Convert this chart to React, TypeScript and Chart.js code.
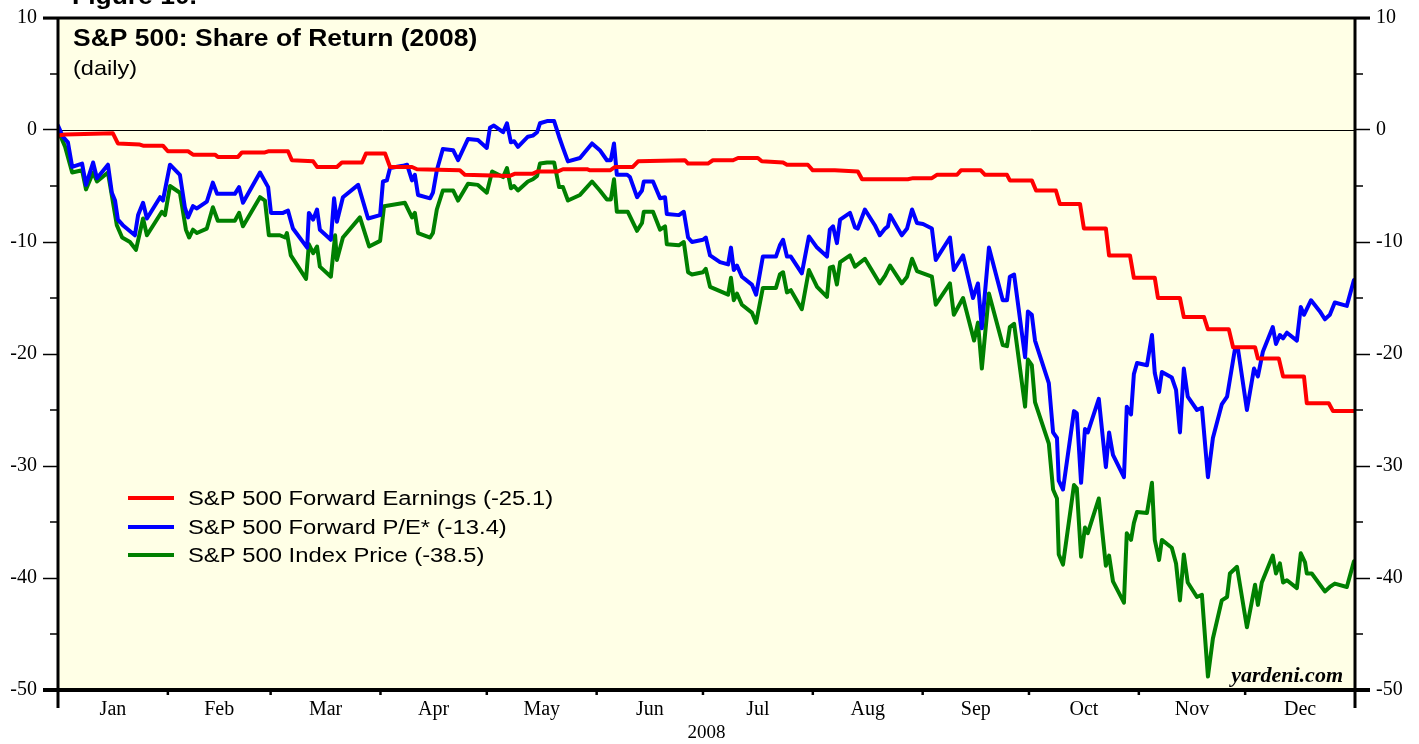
import React, { useEffect, useRef } from "react";
import { Chart, registerables } from "chart.js";

Chart.register(...registerables);

// ---- Data (x = day of year 2008, y = % share of return) ----
const MONTHS = ["Jan", "Feb", "Mar", "Apr", "May", "Jun", "Jul", "Aug", "Sep", "Oct", "Nov", "Dec"];
const MONTH_STARTS = [0, 31, 60, 91, 121, 152, 182, 213, 244, 274, 305, 335, 366];
const Y_MIN = -50;
const Y_MAX = 10;

const LABEL_EARNINGS = "S&P 500 Forward Earnings (-25.1)";
const LABEL_PE = "S&P 500 Forward P/E* (-13.4)";
const LABEL_PRICE = "S&P 500 Index Price (-38.5)";

const EARNINGS: [number, number][] = [
  [0, -0.5], [2.0, -0.4], [15.5, -0.3], [16.9, -1.2], [23.1, -1.3], [24.0, -1.4], [29.6, -1.4], [31.0, -1.9],
  [36.7, -1.9], [38.1, -2.2], [44.3, -2.2], [45.1, -2.4], [50.8, -2.4], [51.9, -2.0], [58.4, -2.0], [59.3, -1.9],
  [64.9, -1.9], [66.0, -2.7], [72.0, -2.8], [73.1, -3.3], [78.7, -3.3], [80.1, -2.9], [85.8, -2.9], [86.9, -2.1],
  [92.3, -2.1], [93.7, -3.3], [99.9, -3.3], [101.3, -3.5], [113.4, -3.6], [114.8, -4.0], [127.5, -4.1], [129.0, -3.9],
  [134.0, -3.9], [135.4, -3.7], [141.1, -3.7], [142.5, -3.5], [149.3, -3.5], [150.1, -3.6], [155.8, -3.6], [157.2, -3.3],
  [162.2, -3.3], [163.7, -2.8], [176.9, -2.7], [177.8, -3.0], [183.4, -3.0], [184.8, -2.7], [190.5, -2.7], [191.9, -2.5],
  [197.5, -2.5], [198.6, -2.8], [204.6, -2.9], [205.7, -3.1], [211.6, -3.1], [213.0, -3.6], [219.2, -3.6], [225.7, -3.7],
  [226.9, -4.4], [239.8, -4.4], [241.3, -4.3], [246.6, -4.3], [248.0, -4.0], [253.7, -4.0], [254.8, -3.6], [260.4, -3.6],
  [261.6, -4.0], [267.8, -4.0], [268.6, -4.5], [274.8, -4.5], [276.0, -5.4], [281.6, -5.4], [282.7, -6.6], [288.4, -6.6],
  [289.5, -8.8], [295.7, -8.8], [296.6, -11.2], [302.5, -11.2], [303.6, -13.2], [309.5, -13.2], [310.4, -15.0], [316.6, -15.0],
  [317.7, -16.7], [323.4, -16.7], [324.5, -17.8], [330.4, -17.8], [331.6, -19.4], [337.8, -19.4], [338.6, -20.4], [344.5, -20.4],
  [345.7, -22.0], [351.6, -22.0], [352.4, -24.4], [358.6, -24.4], [359.8, -25.1], [365.7, -25.1],
];

const PE: [number, number][] = [
  [0, 0.4], [1.4, -0.6], [2.8, -1.1], [4.0, -3.3], [6.8, -3.0], [7.9, -4.9], [9.9, -2.9], [11.0, -4.3], [14.1, -3.1],
  [15.2, -5.6], [16.1, -6.3], [16.9, -8.0], [18.3, -8.5], [21.7, -9.4], [22.6, -7.6], [24.0, -6.5], [25.1, -7.9],
  [28.8, -6.0], [29.6, -6.3], [31.6, -3.1], [34.4, -4.0], [35.8, -6.9], [36.7, -7.8], [38.1, -6.8], [39.2, -7.0],
  [42.0, -6.4], [43.7, -4.7], [44.9, -5.7], [49.9, -5.7], [51.1, -5.1], [52.2, -6.5], [57.0, -3.8], [59.3, -5.1],
  [60.1, -7.4], [63.5, -7.4], [64.9, -7.2], [66.3, -8.8], [70.3, -10.5], [70.8, -7.4], [72.0, -8.0], [73.1, -7.1],
  [73.9, -8.9], [77.0, -9.8], [77.9, -6.1], [78.7, -8.2], [80.4, -6.0], [84.7, -4.9], [87.5, -7.9], [90.9, -7.6],
  [91.7, -4.6], [92.8, -4.5], [93.7, -3.4], [97.3, -3.2], [98.5, -3.1], [99.9, -4.5], [100.7, -4.0], [101.6, -5.8],
  [105.0, -6.1], [105.8, -5.6], [106.9, -3.6], [108.6, -1.7], [111.5, -1.8], [112.9, -2.7], [115.7, -0.8], [118.5, -0.9],
  [121.0, -1.6], [121.9, 0.2], [123.0, 0.4], [125.6, -0.2], [126.7, 0.6], [127.8, -1.1], [128.7, -1.0], [129.8, -1.5],
  [132.6, -0.6], [134.0, -0.5], [135.2, -0.2], [136.0, 0.6], [138.0, 0.8], [140.0, 0.8], [141.4, -0.6], [142.5, -1.6],
  [143.9, -2.8], [147.3, -2.5], [150.7, -1.2], [152.9, -1.8], [154.9, -2.7], [156.0, -2.7], [156.9, -1.2], [157.7, -4.0],
  [160.6, -4.0], [161.4, -4.2], [163.4, -6.0], [164.8, -5.4], [165.3, -4.6], [167.9, -4.6], [169.9, -6.1], [171.3, -6.0],
  [171.8, -7.5], [175.2, -7.6], [176.6, -7.3], [177.8, -9.6], [178.9, -10.0], [182.0, -9.8], [182.8, -9.6], [184.0, -11.2],
  [186.8, -11.8], [189.1, -12.0], [189.9, -10.5], [190.7, -12.5], [191.6, -12.1], [193.0, -13.1], [195.8, -13.8], [197.0, -14.7],
  [198.9, -11.3], [202.6, -11.3], [203.7, -10.3], [204.6, -9.8], [205.7, -11.3], [206.8, -11.3], [209.9, -12.8], [211.9, -9.5],
  [214.2, -10.5], [217.0, -11.3], [217.8, -8.9], [218.7, -8.6], [219.8, -10.1], [220.7, -8.0], [223.5, -7.4], [224.9, -8.7],
  [225.7, -8.8], [227.7, -7.1], [230.5, -8.5], [231.9, -9.4], [233.4, -8.8], [234.2, -8.6], [234.8, -7.6], [238.1, -9.4],
  [239.6, -8.8], [241.0, -7.1], [242.4, -8.3], [244.1, -8.4], [246.6, -8.8], [247.7, -11.6], [251.7, -9.6], [252.8, -12.5],
  [255.4, -11.2], [258.2, -15.0], [259.6, -13.7], [260.7, -17.7], [262.7, -10.5], [266.6, -15.2], [267.8, -15.2], [268.6, -13.1],
  [269.8, -12.9], [272.9, -20.3], [273.7, -16.2], [274.8, -16.5], [275.7, -18.8], [279.6, -22.6], [280.8, -27.0], [281.9, -27.5],
  [282.4, -31.3], [283.6, -32.1], [286.7, -25.1], [287.5, -25.3], [288.7, -31.5], [289.8, -26.7], [290.6, -27.0], [293.7, -24.0],
  [295.7, -30.1], [296.6, -27.0], [297.7, -29.0], [300.8, -31.0], [301.6, -24.7], [302.8, -25.4], [303.6, -21.8], [304.5, -20.8],
  [307.3, -21.0], [308.7, -18.3], [309.5, -21.7], [310.7, -23.4], [311.5, -21.6], [314.3, -22.1], [315.5, -23.2], [316.6, -27.0],
  [317.7, -21.3], [318.8, -23.8], [321.4, -25.0], [322.8, -24.8], [324.5, -31.0], [325.9, -27.5], [328.4, -24.5], [329.9, -23.8],
  [332.1, -19.6], [333.0, -19.6], [335.5, -25.0], [337.5, -21.3], [338.6, -22.0], [340.0, -19.8], [342.8, -17.6], [343.7, -19.1],
  [344.8, -18.3], [345.7, -18.6], [346.8, -18.1], [349.6, -18.8], [350.7, -15.8], [351.6, -16.5], [353.6, -15.2], [356.1, -16.2],
  [357.5, -16.9], [358.9, -16.5], [360.3, -15.4], [363.7, -15.7], [365.7, -13.4],
];

const PRICE: [number, number][] = [
  [0, 0], [2.0, -1.5], [4.0, -3.8], [6.8, -3.6], [7.9, -5.3], [9.9, -3.8], [11.0, -4.6], [14.1, -3.8], [16.6, -8.5],
  [18.1, -9.6], [20.3, -10.0], [22.0, -10.7], [24.0, -7.9], [25.1, -9.4], [29.3, -7.3], [30.2, -7.6], [31.6, -5.0],
  [34.4, -5.6], [36.1, -8.9], [37.0, -9.6], [38.1, -8.9], [39.2, -9.2], [42.0, -8.8], [43.7, -6.9], [45.1, -8.1],
  [49.9, -8.1], [51.1, -7.4], [52.2, -8.6], [57.0, -6.0], [58.4, -6.3], [59.5, -9.4], [62.6, -9.4], [64.1, -9.6],
  [64.6, -9.2], [65.7, -11.2], [70.0, -13.3], [70.8, -10.2], [72.0, -11.0], [73.1, -10.4], [73.9, -12.2], [77.0, -13.1],
  [78.2, -9.4], [78.7, -11.6], [80.4, -9.6], [85.2, -7.8], [87.8, -10.4], [90.9, -9.9], [92.0, -6.8], [97.9, -6.5],
  [99.9, -7.8], [100.7, -7.4], [101.6, -9.2], [105.0, -9.6], [105.8, -9.2], [106.9, -7.1], [108.6, -5.4], [111.5, -5.4],
  [112.9, -6.3], [115.7, -4.8], [118.5, -4.9], [121.0, -5.6], [122.5, -3.7], [125.6, -4.2], [126.7, -3.4], [127.8, -5.2],
  [128.7, -5.0], [129.8, -5.4], [132.6, -4.6], [134.0, -4.4], [135.2, -4.1], [136.0, -3.0], [138.0, -2.9], [140.0, -2.9],
  [141.4, -5.1], [142.5, -5.1], [143.9, -6.3], [147.3, -5.8], [150.7, -4.6], [152.9, -5.4], [154.9, -6.2], [156.0, -6.2],
  [156.9, -4.4], [157.7, -7.3], [160.8, -7.3], [163.4, -9.0], [164.8, -8.3], [165.3, -7.3], [167.9, -7.3], [169.9, -8.9],
  [171.3, -8.6], [171.8, -10.2], [175.2, -10.3], [176.6, -10.0], [177.8, -12.7], [178.9, -12.9], [182.0, -12.7], [182.8, -12.4],
  [184.0, -14.0], [189.1, -14.7], [189.9, -13.2], [190.7, -15.2], [191.6, -14.6], [193.0, -15.6], [195.8, -16.3], [197.0, -17.2],
  [198.9, -14.1], [202.6, -14.1], [203.7, -12.9], [204.6, -12.7], [205.7, -14.5], [206.8, -14.3], [209.9, -16.0], [211.9, -12.5],
  [214.2, -14.0], [217.0, -14.9], [217.8, -12.3], [218.7, -12.2], [219.8, -13.8], [220.7, -11.8], [223.5, -11.2], [224.9, -12.2],
  [227.7, -11.5], [231.9, -13.7], [233.4, -13.0], [234.8, -12.1], [238.1, -13.7], [239.6, -13.1], [241.0, -11.5], [242.4, -12.6],
  [244.1, -12.8], [246.6, -13.1], [247.7, -15.6], [251.7, -13.7], [252.8, -16.5], [255.4, -15.0], [258.5, -18.8], [259.6, -17.2],
  [260.7, -21.3], [262.7, -14.6], [266.6, -19.2], [267.8, -19.3], [268.6, -17.6], [269.8, -17.3], [272.9, -24.7], [273.7, -20.5],
  [274.8, -21.0], [275.7, -24.3], [279.6, -28.0], [280.8, -32.1], [281.9, -32.9], [282.4, -37.9], [283.6, -38.8], [286.7, -31.7],
  [287.5, -32.0], [288.7, -38.1], [289.8, -35.5], [290.6, -36.0], [293.7, -32.9], [295.7, -38.9], [296.6, -38.0], [297.7, -40.3],
  [300.8, -42.2], [301.6, -36.0], [302.8, -36.6], [303.6, -35.1], [304.5, -34.1], [307.3, -34.2], [308.7, -31.5], [309.5, -36.6],
  [310.7, -38.4], [311.5, -36.6], [314.3, -37.3], [315.5, -38.7], [316.6, -42.0], [317.7, -37.9], [318.8, -40.4], [321.4, -41.7],
  [322.8, -41.5], [324.5, -48.8], [325.9, -45.4], [328.4, -42.0], [329.9, -41.7], [330.7, -39.6], [332.7, -39.0], [335.5, -44.4],
  [337.8, -40.6], [338.6, -42.4], [339.7, -40.4], [342.8, -38.0], [343.7, -39.6], [344.8, -38.7], [345.7, -40.4], [346.8, -40.2],
  [349.6, -40.9], [350.7, -37.8], [351.9, -38.6], [352.4, -39.6], [353.8, -39.6], [357.5, -41.2], [358.9, -40.8], [360.3, -40.5],
  [363.7, -40.8], [365.7, -38.5],
];

const SANS = "'Liberation Sans', Arial, sans-serif";
const SERIF = "'Liberation Serif', 'Times New Roman', serif";

function drawStretched(
  ctx: CanvasRenderingContext2D, text: string, x: number, y: number, font: string,
  sx: number, baseline: CanvasTextBaseline = "alphabetic", align: CanvasTextAlign = "left"
) {
  ctx.save();
  ctx.font = font;
  ctx.fillStyle = "#000";
  ctx.textBaseline = baseline;
  ctx.textAlign = align;
  ctx.translate(x, y);
  ctx.scale(sx, 1);
  ctx.fillText(text, 0, 0);
  ctx.restore();
}

const framePlugin = {
  id: "frame",
  beforeDraw(chart: any) {
    const { ctx, chartArea: a } = chart;
    ctx.save();
    ctx.fillStyle = "#FFFFE6";
    ctx.fillRect(a.left, a.top, a.right - a.left, a.bottom - a.top);
    ctx.restore();
  },
  beforeDatasetsDraw(chart: any) {
    const { ctx, chartArea: a, scales } = chart;
    const y0 = scales.y.getPixelForValue(0);
    ctx.save();
    ctx.strokeStyle = "#000";
    ctx.lineWidth = 1;
    ctx.beginPath();
    ctx.moveTo(a.left, Math.round(y0) + 0.5);
    ctx.lineTo(a.right, Math.round(y0) + 0.5);
    ctx.stroke();
    ctx.restore();
  },
  afterDraw(chart: any) {
    const { ctx, chartArea: a, scales } = chart;
    ctx.save();
    ctx.strokeStyle = "#000";
    ctx.lineCap = "butt";
    // minor ticks
    ctx.lineWidth = 1.5;
    for (let v = Y_MIN + 5; v < Y_MAX; v += 10) {
      const py = scales.y.getPixelForValue(v);
      ctx.beginPath();
      ctx.moveTo(a.left - 8, py);
      ctx.lineTo(a.left, py);
      ctx.moveTo(a.right, py);
      ctx.lineTo(a.right + 8, py);
      ctx.stroke();
    }
    // month boundary ticks on bottom axis
    ctx.lineWidth = 2.5;
    for (const d of MONTH_STARTS.slice(1, -1)) {
      const px = scales.x.getPixelForValue(d);
      ctx.beginPath();
      ctx.moveTo(px, a.bottom);
      ctx.lineTo(px, a.bottom + 5);
      ctx.stroke();
    }
    // frame
    ctx.lineWidth = 3;
    ctx.beginPath();
    ctx.moveTo(a.left - 15, a.top);
    ctx.lineTo(a.right + 15, a.top);
    ctx.stroke();
    ctx.beginPath();
    ctx.moveTo(a.left, a.top - 1);
    ctx.lineTo(a.left, a.bottom + 18);
    ctx.moveTo(a.right, a.top - 1);
    ctx.lineTo(a.right, a.bottom + 18);
    ctx.stroke();
    ctx.lineWidth = 4;
    ctx.beginPath();
    ctx.moveTo(a.left - 15, a.bottom);
    ctx.lineTo(a.right + 15, a.bottom);
    ctx.stroke();
    ctx.restore();

    // texts
    drawStretched(ctx, "Figure 10.", 72, 4, `bold 23px ${SANS}`, 1.15);
    drawStretched(ctx, "S&P 500: Share of Return (2008)", a.left + 15, 46, `bold 23px ${SANS}`, 1.15);
    drawStretched(ctx, "(daily)", a.left + 15, 75, `21px ${SANS}`, 1.12);
    drawStretched(ctx, "yardeni.com", a.right - 12, 682, `italic bold 22px ${SERIF}`, 1, "alphabetic", "right");

    // legend
    const rows = [498, 527, 555];
    chart.data.datasets.forEach((ds: any, i: number) => {
      const y = rows[i];
      ctx.save();
      ctx.strokeStyle = ds.borderColor;
      ctx.lineWidth = 4;
      ctx.beginPath();
      ctx.moveTo(128, y);
      ctx.lineTo(174, y);
      ctx.stroke();
      ctx.restore();
      drawStretched(ctx, ds.label, 188, y + 1, `20px ${SANS}`, 1.19, "middle");
    });
  },
};

export default function App() {
  const ref = useRef<HTMLCanvasElement>(null);
  useEffect(() => {
    if (!ref.current) return;
    const monthMids = MONTHS.map((_, i) => (MONTH_STARTS[i] + MONTH_STARTS[i + 1]) / 2);
    const yAxis = (position: "left" | "right", width: number) => ({
      position,
      min: Y_MIN,
      max: Y_MAX,
      ticks: {
        stepSize: 10,
        color: "#000",
        padding: 6,
        font: { family: SERIF, size: 20 },
      },
      grid: { drawOnChartArea: false, drawTicks: true, tickLength: 15, tickColor: "#000", tickWidth: 1.5 },
      border: { display: false },
      afterFit: (s: any) => { s.width = width; },
    });
    const chart = new Chart(ref.current, {
      type: "line",
      data: {
        datasets: [
          { label: LABEL_EARNINGS, data: EARNINGS.map(([x, y]) => ({ x, y })), borderColor: "#FF0000" },
          { label: LABEL_PE, data: PE.map(([x, y]) => ({ x, y })), borderColor: "#0000FF" },
          { label: LABEL_PRICE, data: PRICE.map(([x, y]) => ({ x, y })), borderColor: "#008000" },
        ].map((d) => ({
          ...d,
          borderWidth: 4,
          pointRadius: 0,
          tension: 0,
          fill: false,
          borderJoinStyle: "round" as const,
          borderCapStyle: "round" as const,
        })),
      },
      options: {
        responsive: false,
        animation: false,
        layout: { padding: { top: 18, left: 0, right: 0, bottom: 0 } },
        plugins: { legend: { display: false }, tooltip: { enabled: false }, title: { display: false } },
        scales: {
          x: {
            type: "linear",
            min: 0,
            max: 366,
            afterBuildTicks: (s: any) => { s.ticks = monthMids.map((v) => ({ value: v })); },
            ticks: {
              autoSkip: false,
              maxRotation: 0,
              color: "#000",
              padding: 8,
              font: { family: SERIF, size: 20 },
              callback: (_v: any, i: number) => MONTHS[i],
            },
            grid: { display: false, drawTicks: false },
            border: { display: false },
            title: { display: true, text: "2008", color: "#000", font: { family: SERIF, size: 19 }, padding: { top: 0, bottom: 0 } },
            afterFit: (s: any) => { s.height = 54; },
          },
          y: yAxis("left", 58) as any,
          y2: yAxis("right", 64) as any,
        },
      },
      plugins: [framePlugin],
    });
    return () => chart.destroy();
  }, []);
  return (
    <div style={{ position: "fixed", left: 0, top: 0, width: 1419, height: 744, background: "#fff" }}>
      <canvas ref={ref} width={1419} height={744} style={{ width: 1419, height: 744, display: "block" }} />
    </div>
  );
}
